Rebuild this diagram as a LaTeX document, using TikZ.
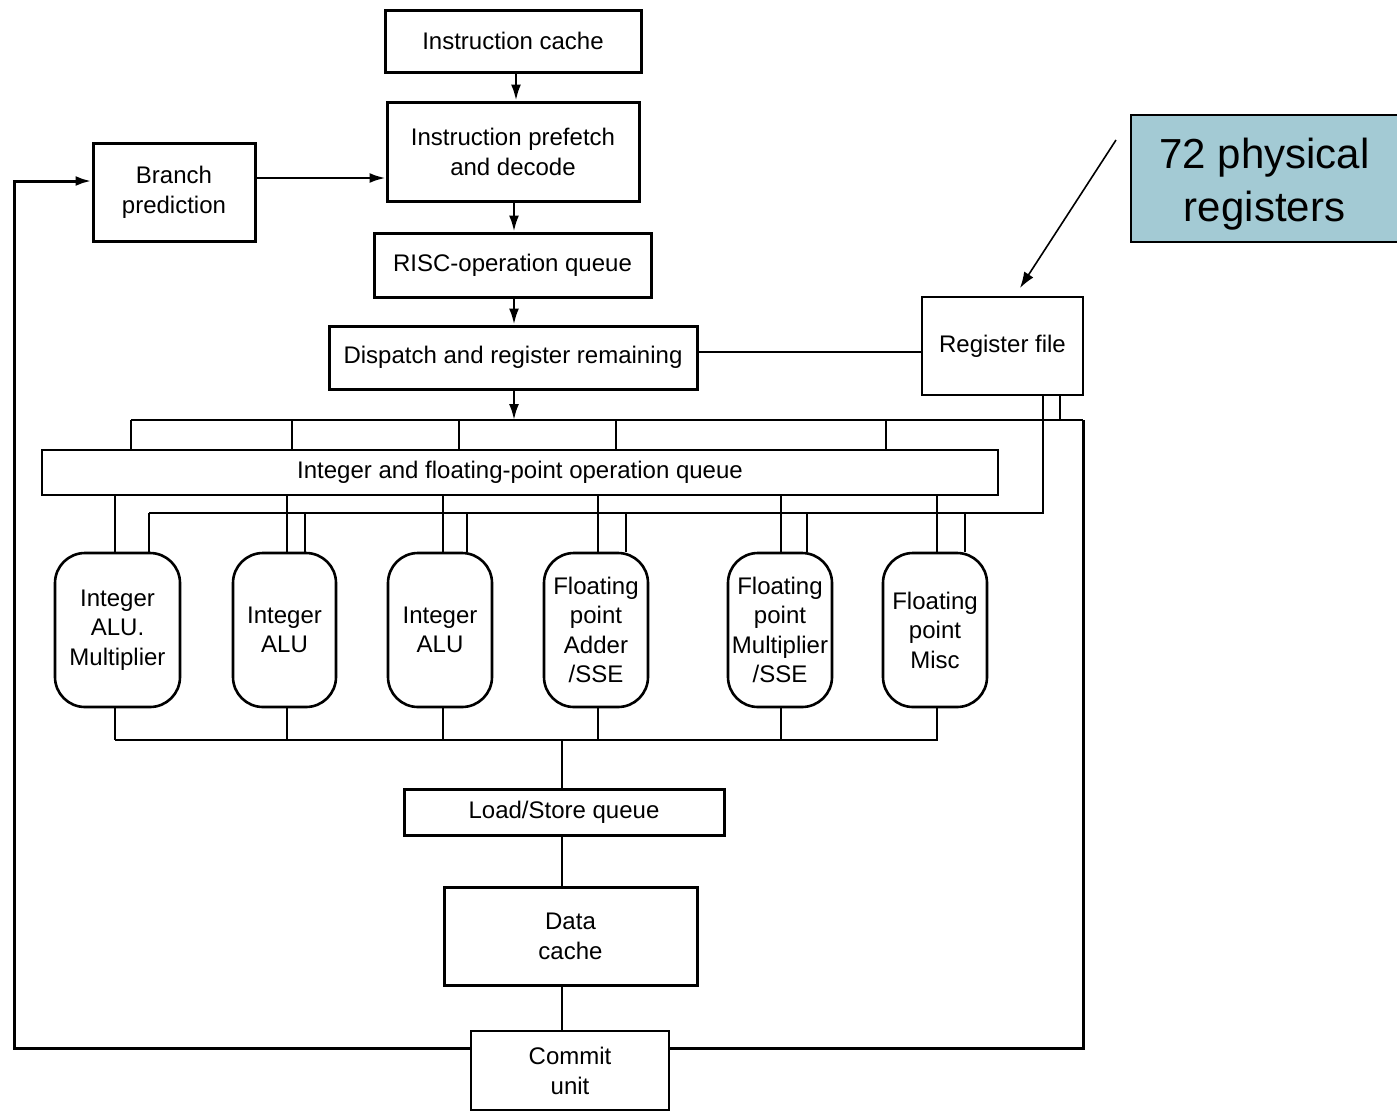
\documentclass[tikz,border=0pt]{standalone}
\usepackage{fontspec}
\setmainfont{Liberation Sans}
\usetikzlibrary{arrows.meta,calc}
\definecolor{callblue}{RGB}{163,202,212}
\begin{document}
\begin{tikzpicture}[x=1pt,y=-1pt,
  box/.style={draw,line width=3pt,inner sep=0pt,align=center,font=\fontsize{24}{30}\selectfont},
  thinbox/.style={draw,line width=2.2pt,inner sep=0pt,align=center,font=\fontsize{24}{30}\selectfont},
  unit/.style={draw,line width=2.6pt,rounded corners=30pt,inner sep=0pt,align=center,
     minimum width=104pt,minimum height=154pt,font=\fontsize{24}{29.5}\selectfont},
  bus/.style={line width=2.4pt},
  arr/.style={line width=2.4pt,-{Latex[length=16pt,width=10pt]}}]
\useasboundingbox (0,0) rectangle (1397,1112);

\node[box,minimum width=256pt,minimum height=62pt] (ic) at (513,41) {Instruction cache};
\node[box,minimum width=252pt,minimum height=99pt] (pf) at (513,151.5) {Instruction prefetch\\and decode};
\node[box,minimum width=162pt,minimum height=98pt] (bp) at (174,192) {Branch\\prediction};
\node[box,minimum width=277pt,minimum height=64pt] (risc) at (512.5,265) {RISC-operation queue};
\node[box,minimum width=368pt,minimum height=63pt] (disp) at (513,357.5) {Dispatch and register remaining};
\node[thinbox,minimum width=161pt,minimum height=98pt] (reg) at (1002.5,346) {Register file};
\node[thinbox,line width=2.6pt,minimum width=956pt,minimum height=45pt] (q) at (520,472.5) {Integer and floating-point operation queue};
\node[box,minimum width=320pt,minimum height=46pt] (ls) at (564,812) {Load/Store queue};
\node[box,minimum width=253pt,minimum height=98pt] (dc) at (570.5,936) {Data\\cache};
\node[thinbox,minimum width=198pt,minimum height=79pt] (cu) at (570,1070.5) {Commit\\unit};
\node[draw,line width=2pt,fill=callblue,inner sep=0pt,minimum width=267pt,minimum height=127pt,
      align=center,font=\fontsize{42}{53}\selectfont] (call) at (1264.5,178.5) {\rule{0pt}{41pt}72 physical\\registers};

\node[unit,minimum width=125pt] (u1) at (117.5,630) {Integer\\ALU.\\Multiplier};
\node[unit,minimum width=103pt] (u2) at (284.5,630) {Integer\\ALU};
\node[unit] (u3) at (440,630) {Integer\\ALU};
\node[unit] (u4) at (596,630) {Floating\\point\\Adder\\/SSE};
\node[unit] (u5) at (780,630) {Floating\\point\\Multiplier\\/SSE};
\node[unit] (u6) at (935,630) {Floating\\point\\Misc};

% main pipeline arrows
\draw[arr] (ic.south -| 516,0) -- (pf.north -| 516,0);
\draw[arr] (bp.east |- 0,178) -- (pf.west |- 0,178);
\draw[arr] (pf.south -| 514,0) -- (risc.north -| 514,0);
\draw[arr] (risc.south -| 514,0) -- (disp.north -| 514,0);
\coordinate (tb) at (514,420);
\draw[arr] (disp.south -| 514,0) -- (tb);
\draw[bus] (disp.east |- 0,352) -- (reg.west |- 0,352);

% callout arrow
\coordinate (cs) at (1116,140);
\coordinate (ce) at (1020,288);
\draw[line width=1.6pt,-{Latex[length=16pt,width=11pt]}] (cs) -- (ce);

% top bus
\draw[bus] (131,420) -- (1083,420);
\foreach \x in {131,292,459,616,886} \draw[bus] (\x,420) -- (q.north -| \x,0);
\draw[bus] (reg.south -| 1060,0) -- (1060,420);
\draw[bus] (reg.south -| 1043,0) -- (1043,513) -- (149,513);

% queue to units
\foreach \x/\u in {115/u1,287/u2,443/u3,598/u4,781/u5,937/u6}
  \draw[bus] (q.south -| \x,0) -- (\u.north -| \x,0);
\foreach \x/\u in {149/u1,305/u2,467/u3,626/u4,807/u5,965/u6}
  \draw[bus] (\x,513) -- (\u.north -| \x,0);

% units to load/store
\foreach \x/\u in {115/u1,287/u2,443/u3,598/u4,781/u5,937/u6}
  \draw[bus] (\u.south -| \x,0) -- (\x,740);
\draw[bus] (115,740) -- (938,740);
\draw[bus] (562,740) -- (ls.north -| 562,0);
\draw[bus] (ls.south -| 562,0) -- (dc.north -| 562,0);
\draw[bus] (dc.south -| 562,0) -- (cu.north -| 562,0);

% feedback loops
\draw[line width=3pt] (cu.east |- 0,1048) -- (1083,1048) -- (1083,420);
\draw[line width=3pt,-{Latex[length=16pt,width=10pt]}] (cu.west |- 0,1048) -- (14,1048) -- (14,181) -- (bp.west |- 0,181);
\end{tikzpicture}
\end{document}
